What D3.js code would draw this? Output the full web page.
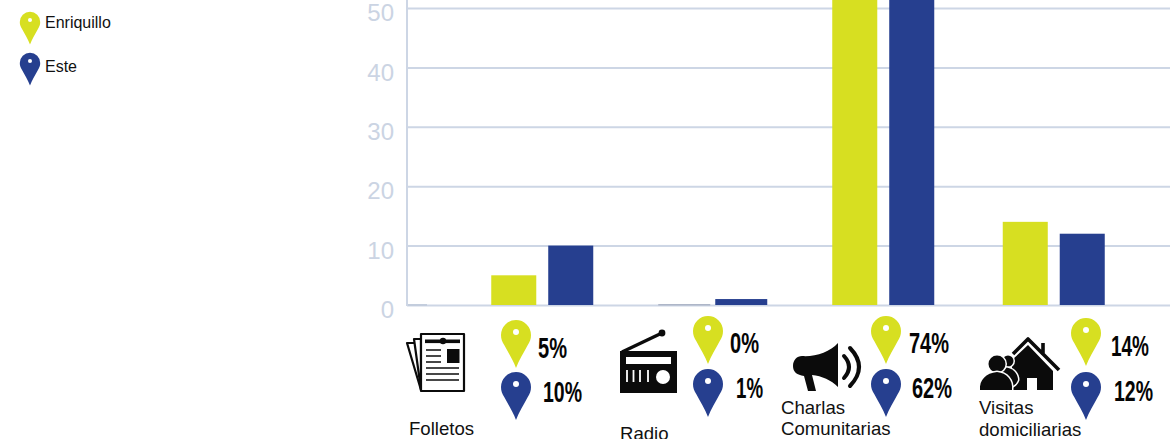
<!DOCTYPE html>
<html>
<head>
<meta charset="utf-8">
<script src="https://cdn.jsdelivr.net/npm/d3@7"></script>
<style>
  html, body { margin: 0; padding: 0; background: #fff; overflow: hidden; }
  svg { display: block; font-family: "Liberation Sans", Arial, sans-serif; }
  .pct { font-family: "Liberation Sans Narrow", "Liberation Sans", sans-serif; font-weight: 700; font-size: 29px; fill: #050505; }
</style>
</head>
<body>
<svg width="1170" height="439"></svg>
<script>
// Chart data
var categories = ["Folletos", "Radio", "Charlas Comunitarias", "Visitas domiciliarias"];
var seriesNames = ["Enriquillo", "Este"];
var enriquillo = [5, 0, 74, 14];
var este = [10, 1, 62, 12];
var yTicks = [0, 10, 20, 30, 40, 50];

// Layout of the picture, kept apart from the data
var colors = ["#d7df21", "#263f8f"];
var gridColor = "#cdd6e5";
var tickColor = "#cbd4e3";
var groupWidths = [102, 109, 102, 102];     // the radio bars are wider in the original
var groupPadding = [0.21, 0.088, 0.21, 0.21];
var pinX = [516, 708, 886, 1086];
var pinY = [[335, 387], [331, 384], [331, 384], [333, 387]];
var pctX = [[538, 543], [730, 736], [909, 912], [1111, 1114]];
var pctY = [[358, 402], [353, 398], [353, 398], [356, 401]];
var pctW = [[29, 39], [29, 27], [40, 40], [38, 39]];
var labelX = [409, 620, 781, 979];
var labelY = [[435], [440], [414, 435], [414, 436]];
var labelLines = [["Folletos"], ["Radio"], ["Charlas", "Comunitarias"], ["Visitas", "domiciliarias"]];

var svg = d3.select("svg"),
    width = +svg.attr("width"),
    height = +svg.attr("height");

// Scales. The top of the chart runs off the picture, so 74 is simply clipped
var y = d3.scaleLinear().domain([0, 50]).range([305, 8]);
var x0 = d3.scaleBand().domain(categories).range([457, 1139]);

// Grid and axis
var yAxis = svg.append("g")
    .attr("transform", "translate(407,0)")
    .call(d3.axisLeft(y).tickValues(yTicks).tickSize(-(width - 407)).tickPadding(13));
yAxis.select(".domain").remove();
yAxis.selectAll("line").attr("stroke", gridColor).attr("stroke-width", 2);
yAxis.selectAll("text")
    .attr("fill", tickColor)
    .attr("font-family", "Liberation Sans")
    .attr("font-size", 24)
    .attr("dy", "0.53em");   // labels sit below their grid lines in the original

svg.append("line")
    .attr("x1", 407).attr("x2", 407)
    .attr("y1", 0).attr("y2", y(0) + 1)
    .attr("stroke", gridColor).attr("stroke-width", 2);

// Faint mark on the base line next to the axis
svg.append("line")
    .attr("x1", 408).attr("x2", 427)
    .attr("y1", y(0)).attr("y2", y(0))
    .attr("stroke", "#c3cddd").attr("stroke-width", 2);

// Bars
var rows = categories.map(function(c, i) {
    return { category: c, index: i, values: [enriquillo[i], este[i]] };
});

var group = svg.append("g").selectAll("g")
    .data(rows)
    .enter().append("g")
    .attr("transform", function(d) {
        return "translate(" + (x0(d.category) + x0.bandwidth() / 2) + ",0)";
    });

group.selectAll("rect")
    .data(function(d) {
        var w = groupWidths[d.index];
        var x1 = d3.scaleBand().domain(seriesNames).range([-w / 2, w / 2]).paddingInner(groupPadding[d.index]);
        return d.values.map(function(v, k) {
            return { value: v, series: k, x: x1(seriesNames[k]), w: x1.bandwidth() };
        });
    })
    .enter().append("rect")
    .attr("x", function(d) { return d.x; })
    .attr("width", function(d) { return d.w; })
    .attr("y", function(d) { return d.value > 0 ? y(d.value) : y(0) - 1; })
    .attr("height", function(d) { return d.value > 0 ? y(0) - y(d.value) : 1.5; })
    .attr("fill", function(d) { return d.value > 0 ? colors[d.series] : "#aeb6c8"; });

// Map pin drawn around the centre of its head
function addPin(parent, cx, cy, color, k) {
    var g = parent.append("g")
        .attr("transform", "translate(" + cx + "," + cy + ") scale(" + k + ")");
    g.append("path")
        .attr("d", "M0,33C-3,25 -8,17 -11.5,10.5C-14,6.5 -15,4 -15,0A15,15 0 1 1 15,0C15,4 14,6.5 11.5,10.5C8,17 3,25 0,33Z")
        .attr("fill", color);
    g.append("circle").attr("cy", -3).attr("r", 3).attr("fill", "#fff");
}

// Pins and percentages under each group
rows.forEach(function(d, i) {
    d.values.forEach(function(v, k) {
        addPin(svg, pinX[i], pinY[i][k], colors[k], 1);
        svg.append("text")
            .attr("class", "pct")
            .attr("x", pctX[i][k])
            .attr("y", pctY[i][k])
            .attr("textLength", pctW[i][k])
            .attr("lengthAdjust", "spacingAndGlyphs")
            .text(v + "%");
    });
    labelLines[i].forEach(function(line, n) {
        svg.append("text")
            .attr("x", labelX[i])
            .attr("y", labelY[i][n])
            .attr("font-size", 18.6)
            .attr("fill", "#111")
            .text(line);
    });
});

// Legend
var legendY = [22, 63];
var legendTextY = [28, 72];
seriesNames.forEach(function(name, k) {
    addPin(svg, 30, legendY[k], colors[k], 0.68);
    svg.append("text")
        .attr("x", 45)
        .attr("y", legendTextY[k])
        .attr("font-size", 16)
        .attr("fill", "#111")
        .text(name);
});

// Icons
var icons = svg.append("g").attr("stroke-linejoin", "round");

// newspaper
var paper = icons.append("g").attr("fill", "#fff").attr("stroke", "#0b0b0b").attr("stroke-width", 2.2);
paper.append("path").attr("d", "M421,343L407,343L421,390Z");
paper.append("path").attr("d", "M421,339L414,339L421,390Z");
paper.append("rect").attr("x", 421).attr("y", 334).attr("width", 43).attr("height", 57);
icons.append("rect").attr("x", 425).attr("y", 339.5).attr("width", 35).attr("height", 3.6).attr("fill", "#0b0b0b");
icons.append("circle").attr("cx", 443).attr("cy", 341).attr("r", 3.2).attr("fill", "#0b0b0b");
icons.append("rect").attr("x", 447).attr("y", 349).attr("width", 12.5).attr("height", 14).attr("fill", "#0b0b0b");
icons.append("path")
    .attr("d", "M426,350H441M426,356H441M426,362H441M426,368H459M426,374H459M426,380H459")
    .attr("stroke", "#0b0b0b").attr("stroke-width", 1.6).attr("fill", "none");

// radio
icons.append("path").attr("d", "M622,352L662,333").attr("stroke", "#0b0b0b").attr("stroke-width", 3.4);
icons.append("circle").attr("cx", 662).attr("cy", 333).attr("r", 3.4).attr("fill", "#0b0b0b");
icons.append("rect").attr("x", 620).attr("y", 351).attr("width", 57).attr("height", 42).attr("fill", "#0b0b0b");
icons.append("rect").attr("x", 626).attr("y", 357).attr("width", 45).attr("height", 7).attr("fill", "#fff");
icons.append("path")
    .attr("d", "M627,370V382M633.5,370V382M640,370V382M648,370V382")
    .attr("stroke", "#fff").attr("stroke-width", 1.8);
icons.append("circle").attr("cx", 663).attr("cy", 377).attr("r", 7).attr("fill", "#fff");

// megaphone
icons.append("path")
    .attr("d", "M802,356C815,357 830,352 838,343L838,387C831,380 822,376 812,375L816,391L808,391L804,376C797,375 793,372 793,366C793,360 797,356 802,356Z")
    .attr("fill", "#0b0b0b");
icons.append("path")
    .attr("d", "M844,356Q854,367 844,378M850,348Q868,367 850,386")
    .attr("stroke", "#0b0b0b").attr("stroke-width", 4).attr("stroke-linecap", "round").attr("fill", "none");

// house with two people
icons.append("path")
    .attr("d", "M1013,354L1028,339L1059,370M1043,343V355")
    .attr("stroke", "#0b0b0b").attr("stroke-width", 3.6).attr("fill", "none");
icons.append("path")
    .attr("d", "M1028,345L1053,371V390H1037V378H1027V390H1012V360Z")
    .attr("fill", "#0b0b0b");
var people = icons.append("g")
    .attr("fill", "#0b0b0b").attr("stroke", "#fff").attr("stroke-width", 3)
    .style("paint-order", "stroke");
people.append("circle").attr("cx", 1008).attr("cy", 361).attr("r", 5.5);
people.append("path").attr("d", "M1002,368C1010,366 1018,372 1018,380C1016,386 1008,390 1002,388Z");
people.append("circle").attr("cx", 997).attr("cy", 364).attr("r", 8.5);
people.append("path").attr("d", "M980,390C979,380 986,373 997,372C1007,373 1013,380 1012,390Z");
</script>
</body>
</html>
